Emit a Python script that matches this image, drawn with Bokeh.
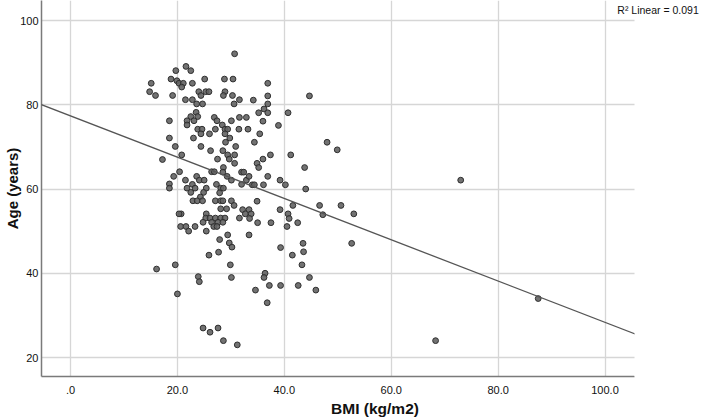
from bokeh.plotting import figure
from bokeh.models import FixedTicker, Label, Slope, Range1d, ColumnDataSource, BoxAnnotation
from bokeh.embed import file_html
from bokeh.resources import INLINE

# --- data ---
bmi = [30.7, 21.6, 22.5, 19.7, 15.1, 18.8, 19.9, 20.3, 21.1, 20.8, 22.8, 25.1, 28.8, 30.4,
       14.8, 15.9, 19.1, 24.0, 24.4, 25.3, 25.9, 28.9, 28.6, 30.3, 31.6, 30.6, 21.5, 22.8,
       23.6, 24.7, 23.5, 23.8, 18.5, 22.5, 21.8, 23.1, 21.8, 26.9, 27.4, 28.4, 30.1, 31.6,
       32.9, 33.2, 23.8, 24.6, 24.4, 26.0, 27.1, 28.9, 29.4, 28.9, 31.5, 18.5, 23.0, 29.8,
       29.0, 19.6, 24.4, 30.9,
       36.9, 34.2, 36.9, 44.7, 36.9, 36.2, 35.2, 36.9, 40.7, 36.0, 38.9, 35.4, 34.4, 48.0, 49.9,
       17.2, 20.8, 26.2, 27.5, 28.5, 29.4, 29.7, 30.7, 30.7, 20.4, 19.3, 18.5, 18.5, 21.5,
       23.6, 24.1, 25.0, 22.8, 23.3, 21.8, 22.5, 25.4, 24.9, 24.3, 22.9, 23.7, 24.7, 26.4,
       26.9, 28.6, 28.5, 29.3, 30.1, 27.3, 28.1, 28.6, 27.9, 32.0, 32.4, 32.0, 32.9, 33.4,
       27.1, 28.1, 28.5, 30.1, 30.6, 28.1, 29.2, 20.7, 20.3, 25.4, 25.3, 26.1, 27.1, 28.1,
       28.9, 31.6, 32.2, 32.7, 33.4, 24.8, 26.4, 27.6, 28.5, 26.8, 27.4, 20.6, 21.6, 22.1,
       23.3, 25.4, 29.4, 27.9, 29.7, 30.2, 33.4, 27.7, 25.9,
       37.4, 41.2, 36.0, 34.9, 35.2, 43.8, 36.9, 39.2, 40.2, 34.0, 34.4, 36.1, 44.0, 34.9,
       41.6, 46.6, 50.6, 39.2, 33.8, 47.2, 53.0, 40.7, 40.9, 33.5, 35.0, 37.5, 42.5, 40.5,
       43.5, 52.6, 39.3, 43.6, 41.5,
       16.1, 19.6, 29.9, 23.9, 24.1, 30.1, 20.0, 24.8, 26.1, 27.6, 28.6, 31.2,
       43.3, 36.4, 36.2, 44.7, 34.6, 37.2, 39.3, 42.6, 45.9, 36.8,
       73.0, 68.3, 87.5]
age = [92.1, 89.1, 88.1, 88.1, 85.1, 86.1, 85.7, 85.1, 85.1, 84.2, 85.1, 86.1, 86.1, 86.1,
       83.1, 82.2, 82.2, 83.1, 82.2, 83.1, 83.1, 83.1, 82.2, 82.2, 81.2, 80.2, 81.2, 81.2,
       80.2, 80.2, 78.2, 77.2, 76.2, 77.2, 76.2, 76.2, 75.2, 77.0, 76.2, 75.2, 76.2, 77.0,
       77.0, 74.2, 74.2, 74.2, 73.1, 73.1, 74.2, 74.2, 74.2, 73.1, 74.2, 72.1, 72.1, 72.1,
       71.1, 70.1, 70.1, 70.1,
       85.1, 81.1, 82.1, 82.1, 80.2, 79.0, 78.1, 78.1, 78.1, 76.1, 75.1, 73.1, 71.1, 71.1, 69.3,
       67.0, 68.1, 69.1, 67.1, 69.1, 68.1, 67.1, 68.1, 66.1, 64.1, 63.0, 61.2, 60.2, 62.1,
       63.0, 62.1, 62.1, 61.1, 60.2, 60.2, 59.2, 60.2, 59.2, 58.1, 57.2, 57.2, 57.2, 64.1,
       64.1, 65.1, 64.0, 63.0, 62.1, 61.1, 60.2, 60.2, 59.1, 64.0, 64.0, 61.1, 62.1, 63.0,
       57.2, 57.2, 57.2, 57.2, 56.1, 55.3, 55.3, 54.1, 54.1, 54.1, 53.1, 53.1, 53.1, 53.1,
       53.1, 53.1, 55.1, 54.1, 55.1, 52.1, 52.1, 52.1, 52.1, 51.1, 51.1, 51.1, 51.1, 50.0,
       51.1, 50.0, 49.1, 48.0, 47.2, 46.2, 49.1, 45.0, 44.3,
       68.1, 68.1, 67.1, 66.1, 65.1, 65.1, 63.0, 62.1, 61.0, 61.0, 61.0, 61.0, 60.0, 57.1,
       56.1, 56.1, 56.1, 55.1, 54.1, 53.9, 54.1, 54.1, 53.0, 53.0, 52.0, 52.0, 52.0, 51.1,
       47.1, 47.1, 46.1, 45.1, 44.3,
       41.0, 42.0, 42.0, 39.2, 38.0, 39.0, 35.1, 27.0, 26.0, 27.0, 24.0, 23.0,
       42.0, 40.0, 39.0, 39.0, 36.0, 37.1, 37.1, 37.1, 36.0, 33.0,
       62.1, 24.0, 34.0]

x_ticks = [0, 20, 40, 60, 80, 100]
x_tick_labels = [".0", "20.0", "40.0", "60.0", "80.0", "100.0"]
y_ticks = [20, 40, 60, 80, 100]
fit_intercept = 77.35
fit_slope = -0.49
r2_text = "R\u00b2 Linear = 0.091"

FONT = "Liberation Sans"
X_START, X_END_AXIS, X_END_CANVAS = -5.43, 105.52, 119.36

p = figure(width=708, height=419, output_backend="svg", toolbar_location=None,
           x_range=Range1d(X_START, X_END_CANVAS), y_range=Range1d(15.49, 104.75),
           min_border_left=41, min_border_right=0, min_border_top=0, min_border_bottom=43)
p.outline_line_color = None
p.background_fill_color = "white"
p.border_fill_color = "white"

src = ColumnDataSource(data=dict(x=bmi, y=age))
p.scatter("x", "y", source=src, size=5.8, fill_color="#636363", fill_alpha=0.9,
          line_color="#2f2f2f", line_width=1)

p.add_layout(Slope(gradient=fit_slope, y_intercept=fit_intercept,
                   line_color="#555555", line_width=1.3))

# mask the area right of the plotting region (annotation text lives there)
p.add_layout(BoxAnnotation(left=X_END_AXIS, fill_color="white", fill_alpha=1.0,
                           line_color=None))

p.xaxis.ticker = FixedTicker(ticks=x_ticks)
p.xaxis.major_label_overrides = {t: l for t, l in zip(x_ticks, x_tick_labels)}
p.xaxis.bounds = (X_START, X_END_AXIS)
p.yaxis.ticker = FixedTicker(ticks=y_ticks)

for ax in (p.xaxis[0], p.yaxis[0]):
    ax.axis_line_color = "#7a7a7a"
    ax.axis_line_width = 1.5
    ax.major_tick_line_color = None
    ax.minor_tick_line_color = None
    ax.major_tick_out = 0
    ax.major_tick_in = 0
    ax.major_label_text_font = FONT
    ax.major_label_text_font_size = "11px"
    ax.major_label_text_color = "#111111"
    ax.axis_label_text_font = FONT
    ax.axis_label_text_font_style = "bold"
    ax.axis_label_text_color = "#111111"

p.xaxis.axis_label_text_font_size = "15.5px"
p.yaxis.axis_label_text_font_size = "15px"
p.yaxis.major_label_standoff = 3
p.yaxis.axis_label_standoff = -4
p.xaxis.major_label_standoff = 9
p.xaxis.axis_label_standoff = 3

p.xaxis.axis_label = "BMI (kg/m2)"
p.yaxis.axis_label = "Age (years)"

p.xgrid.grid_line_color = "#d6d6d6"
p.ygrid.grid_line_color = "#d6d6d6"
p.xgrid.grid_line_width = 1.3
p.ygrid.grid_line_width = 1.3

p.add_layout(Label(x=102.3, y=102.4, text=r2_text, text_font=FONT,
                   text_font_size="10.5px", text_baseline="middle", text_align="left",
                   text_color="#111111"))

open("out.html", "w").write(file_html(p, INLINE))
